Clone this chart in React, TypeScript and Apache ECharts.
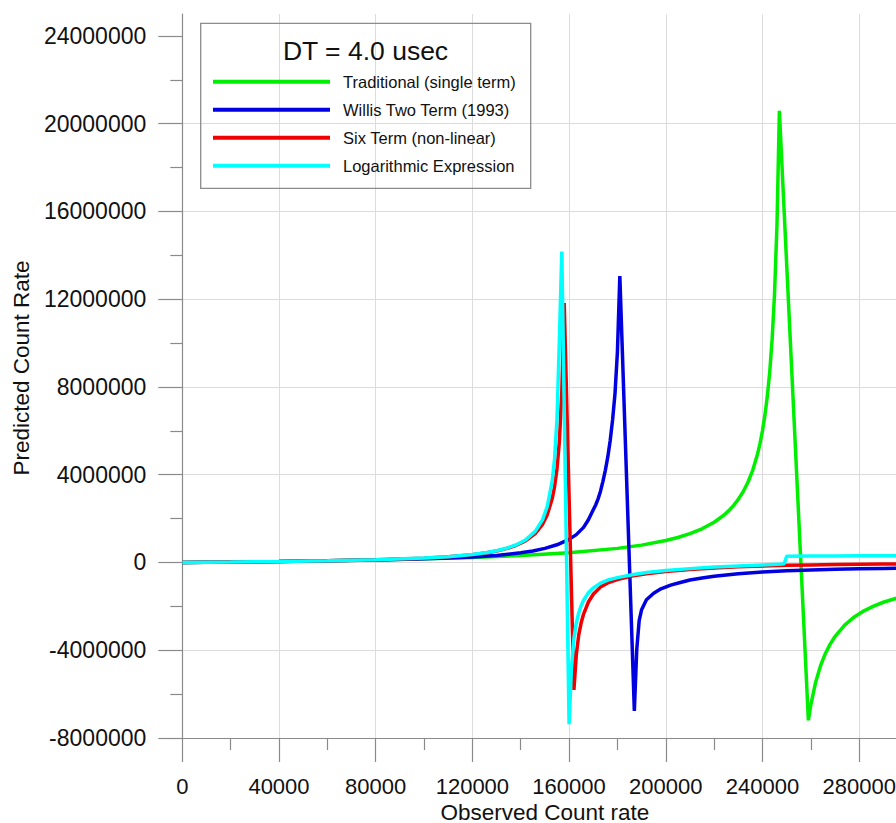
import React, { useEffect, useRef } from 'react';
import * as echarts from 'echarts';

const FONT = '"Liberation Sans", Arial, Helvetica, sans-serif';

const legendTitle = 'DT = 4.0 usec';
const xAxisTitle = 'Observed Count rate';
const yAxisTitle = 'Predicted Count Rate';

const seriesNames = [
  'Traditional (single term)',
  'Willis Two Term (1993)',
  'Six Term (non-linear)',
  'Logarithmic Expression',
];
const seriesColors = ['#00ee00', '#0000e0', '#f00000', '#00ffff'];

// Tick values
const yMajorTicks = [-8000000, -4000000, 0, 4000000, 8000000, 12000000, 16000000, 20000000, 24000000];
const yMinorTicks = [-6000000, -2000000, 2000000, 6000000, 10000000, 14000000, 18000000, 22000000];

// Traditional (single term)
const greenX = [0, 20000, 40000, 60000, 80000, 100000, 120000, 140000, 160000, 180000, 190000, 200000, 205000, 210000, 215000, 220000, 224000, 226000, 228000, 230000, 232000, 234000, 236000, 238000, 239000, 240000, 241000, 242000, 243000, 244000, 245000, 246000, 247000, 259000, 260000, 262000, 264000, 266000, 268000, 270000, 274000, 278000, 282000, 286000, 290000, 296000, 300000];
const greenY = [0, 21700, 47600, 78900, 117600, 166700, 230800, 318200, 444400, 642900, 791700, 1000000, 1139000, 1312500, 1536000, 1833300, 2154000, 2354200, 2591000, 2875000, 3222000, 3656300, 4214000, 4958300, 5432000, 6000000, 6694000, 7562500, 8678600, 10166700, 12250000, 15375000, 20583300, -7194400, -6500000, -5458300, -4714300, -4156300, -3722200, -3375000, -2854200, -2482100, -2203100, -1986100, -1812500, -1608700, -1500000];

// Willis Two Term (1993)
const blueX = [0, 20000, 40000, 60000, 80000, 100000, 110000, 120000, 130000, 140000, 145000, 150000, 155000, 160000, 163000, 166000, 168000, 170000, 171000, 172000, 173000, 174000, 175000, 176000, 177000, 178000, 179000, 180000, 181000, 187000, 188000, 189000, 190000, 192000, 195000, 198000, 202000, 206000, 210000, 215000, 220000, 230000, 240000, 250000, 260000, 270000, 280000, 290000, 300000];
const blueY = [0, 21000, 46000, 76000, 115000, 168000, 205000, 255000, 320000, 442000, 527000, 644000, 807000, 1053000, 1270000, 1600000, 1950000, 2400000, 2620000, 2900000, 3250000, 3700000, 4200000, 4800000, 5550000, 6500000, 7700000, 9600000, 13060000, -6770000, -3960000, -2650000, -2150000, -1700000, -1400000, -1200000, -1030000, -910000, -800000, -710000, -630000, -510000, -430000, -380000, -340000, -310000, -290000, -270000, -260000];

// Six Term (non-linear)
const redX = [0, 20000, 40000, 60000, 80000, 100000, 110000, 120000, 126000, 130000, 134000, 138000, 142000, 146000, 149000, 151000, 153000, 154000, 155000, 156000, 157000, 158000, 162000, 163000, 164000, 165000, 166000, 168000, 170000, 173000, 176000, 180000, 186000, 192000, 200000, 210000, 220000, 230000, 240000, 250000, 260000, 270000, 280000, 290000, 300000];
const redY = [0, 21300, 46500, 78800, 124500, 198000, 262000, 358000, 445000, 524000, 630000, 774000, 983000, 1318000, 1737000, 2182000, 2903000, 3459000, 4263000, 5524000, 7800000, 11820000, -5810000, -4200000, -3300000, -2750000, -2350000, -1800000, -1450000, -1120000, -930000, -780000, -620000, -510000, -410000, -320000, -250000, -200000, -160000, -130000, -110000, -90000, -80000, -70000, -60000];

// Logarithmic Expression
const cyanX = [0, 20000, 40000, 60000, 80000, 100000, 110000, 120000, 126000, 130000, 134000, 138000, 142000, 146000, 149000, 151000, 153000, 154000, 155000, 156000, 157000, 160000, 161000, 162000, 163000, 164000, 165000, 166000, 168000, 170000, 173000, 176000, 180000, 186000, 192000, 200000, 210000, 220000, 230000, 240000, 248000, 249000, 250000, 260000, 270000, 280000, 290000, 300000];
const cyanY = [0, 21300, 46500, 78900, 125000, 200000, 265000, 364000, 454000, 536000, 646000, 796000, 1028000, 1418000, 1945000, 2561000, 3699000, 4730000, 6524000, 10200000, 14170000, -7370000, -4800000, -3470000, -2750000, -2290000, -1960000, -1720000, -1380000, -1160000, -940000, -800000, -690000, -560000, -457000, -364000, -280000, -210000, -160000, -110000, -70000, -60000, 280000, 290000, 300000, 305000, 310000, 315000];

const allX = [greenX, blueX, redX, cyanX];
const allY = [greenY, blueY, redY, cyanY];

const AXIS_COLOR = '#8a8a8a';
const GRID_COLOR = '#dcdcdc';
const TEXT_COLOR = '#111111';

export default function App() {
  const ref = useRef<HTMLDivElement>(null);

  useEffect(() => {
    if (!ref.current) return;
    const chart = echarts.init(ref.current, null, { renderer: 'svg' });

    const series = seriesNames.map((name, i) => ({
      name,
      type: 'line',
      data: allX[i].map((x, j) => [x, allY[i][j]]),
      showSymbol: false,
      symbol: 'none',
      clip: true,
      z: 2 + i,
      itemStyle: { color: seriesColors[i] },
      lineStyle: { color: seriesColors[i], width: 3.5 },
    }));

    const option: any = {
      animation: false,
      backgroundColor: '#ffffff',
      textStyle: { fontFamily: FONT },
      grid: {
        left: 182.3,
        top: 14,
        bottom: 85,
        right: -11.5,
        containLabel: false,
        outerBoundsMode: 'none',
      },
      legend: {
        show: true,
        orient: 'vertical',
        left: 213,
        top: 71.7,
        padding: 0,
        itemWidth: 117,
        itemHeight: 4,
        itemGap: 8,
        icon: 'rect',
        selectedMode: false,
        data: seriesNames,
        textStyle: {
          fontFamily: FONT,
          fontSize: 16.5,
          lineHeight: 20,
          color: TEXT_COLOR,
          padding: [0, 0, 0, 8],
        },
      },
      graphic: [
        {
          type: 'rect',
          z: 100,
          shape: { x: 200.7, y: 23.3, width: 330, height: 165 },
          style: { fill: 'none', stroke: '#8c8c8c', lineWidth: 1.3 },
        },
        {
          type: 'text',
          z: 100,
          x: 365.5,
          y: 51,
          style: {
            text: legendTitle,
            fontFamily: FONT,
            fontSize: 26.5,
            fill: TEXT_COLOR,
            align: 'center',
            verticalAlign: 'middle',
            textAlign: 'center',
            textVerticalAlign: 'middle',
          },
        },
      ],
      xAxis: {
        type: 'value',
        min: 0,
        max: 300000,
        interval: 40000,
        name: xAxisTitle,
        nameLocation: 'middle',
        nameGap: 65,
        nameMoveOverlap: false,
        nameTextStyle: { fontFamily: FONT, fontSize: 22.5, lineHeight: 18, color: TEXT_COLOR },
        axisLine: { show: true, onZero: false, lineStyle: { color: AXIS_COLOR, width: 1.2 } },
        axisTick: { show: true, length: 24, lineStyle: { color: AXIS_COLOR, width: 1.2 } },
        minorTick: { show: true, splitNumber: 2, length: 12, lineStyle: { color: AXIS_COLOR, width: 1.2 } },
        axisLabel: {
          fontFamily: FONT,
          fontSize: 22,
          lineHeight: 20,
          color: TEXT_COLOR,
          margin: 38,
          showMaxLabel: false,
          formatter: (v: number) => String(v),
        },
        splitLine: { show: true, lineStyle: { color: GRID_COLOR, width: 1 } },
        minorSplitLine: { show: false },
      },
      yAxis: [
        {
          type: 'value',
          min: -8000000,
          max: 25000000,
          interval: 4000000,
          position: 'left',
          name: yAxisTitle,
          nameLocation: 'middle',
          nameGap: 149,
          nameMoveOverlap: false,
          nameTextStyle: { fontFamily: FONT, fontSize: 22.5, color: TEXT_COLOR, padding: [0, 0, 0, 16] },
          axisLine: { show: true, onZero: false, lineStyle: { color: AXIS_COLOR, width: 1.2 } },
          axisTick: { show: true, length: 24, customValues: yMajorTicks, lineStyle: { color: AXIS_COLOR, width: 1.2 } },
          axisLabel: {
            customValues: yMajorTicks,
            fontFamily: FONT,
            fontSize: 23,
            color: TEXT_COLOR,
            margin: 36,
            formatter: (v: number) => String(v),
          },
          splitLine: { show: true, showMaxLine: false, lineStyle: { color: GRID_COLOR, width: 1 } },
        },
        {
          type: 'value',
          min: -8000000,
          max: 25000000,
          position: 'left',
          axisLine: { show: false, onZero: false },
          axisTick: { show: true, length: 12, customValues: yMinorTicks, lineStyle: { color: AXIS_COLOR, width: 1.2 } },
          axisLabel: { show: false },
          splitLine: { show: false },
        },
      ],
      series,
    };

    chart.setOption(option);
    return () => chart.dispose();
  }, []);

  return (
    <div
      ref={ref}
      style={{ position: 'absolute', left: 0, top: 0, width: 896, height: 823, overflow: 'hidden' }}
    />
  );
}
